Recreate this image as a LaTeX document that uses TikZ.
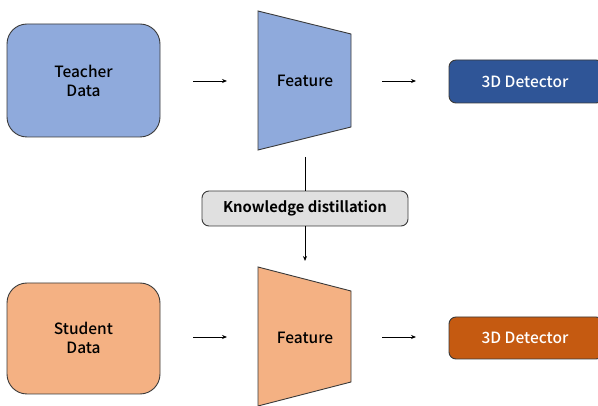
\documentclass[tikz,border=0pt]{standalone}
\usepackage{fontspec}
\setmainfont{Noto Sans CJK KR}[UprightFont=* Medium, BoldFont=* Bold]
\usetikzlibrary{arrows.meta}
\definecolor{tlight}{HTML}{8FAADC}
\definecolor{tdark}{HTML}{2F5597}
\definecolor{slight}{HTML}{F4B183}
\definecolor{sdark}{HTML}{C55A11}
\definecolor{kdgray}{HTML}{E0E0E0}
\definecolor{edge}{HTML}{3A3A3A}
\tikzset{
  databox/.style={draw=edge, line width=0.9pt, rounded corners=20pt},
  detbox/.style={draw=edge, line width=0.9pt, rounded corners=7pt},
  trap/.style={draw=edge, line width=0.9pt},
  lbl/.style={font=\fontsize{15.5}{19}\selectfont, align=center, text=black},
  flow/.style={-{Stealth[length=5pt,width=4pt]}, line width=0.8pt, black},
}
\begin{document}
\begin{tikzpicture}[x=1pt,y=-1pt]
\useasboundingbox (0,0) rectangle (598,406);
% teacher branch
\draw[databox, fill=tlight] (7,24) rectangle (160,137);
\node[lbl] (tdata) at (83.5,81) {Teacher\\Data};
\draw[trap, fill=tlight] (258,11) -- (351,34) -- (351,127) -- (258,150) -- cycle;
\node[lbl] (tfeat) at (305,81) {Feature};
\draw[detbox, fill=tdark] (449,60) rectangle (603,103);
\node[lbl, text=white] (tdet) at (525,81.5) {3D Detector};
\coordinate (ta1) at (193,81); \coordinate (ta2) at (227,81);
\coordinate (tb1) at (382,81); \coordinate (tb2) at (416,81);
\draw[flow] (ta1) -- (ta2);
\draw[flow] (tb1) -- (tb2);
% distillation
\draw[detbox, fill=kdgray] (202,191) rectangle (408,226);
\node[lbl, font=\fontsize{14.8}{17}\selectfont\bfseries] (kd) at (305,208.5) {Knowledge distillation};
\coordinate (kd0) at (305,157); \coordinate (kd1) at (305,191);
\coordinate (kd2) at (305,226); \coordinate (kd3) at (305,261);
\draw[line width=0.8pt] (kd0) -- (kd1);
\draw[flow] (kd2) -- (kd3);
% student branch
\draw[databox, fill=slight] (7,283) rectangle (160,394);
\node[lbl] (sdata) at (83.5,338) {Student\\Data};
\draw[trap, fill=slight] (258,267) -- (351,291) -- (351,382) -- (258,406) -- cycle;
\node[lbl] (sfeat) at (305,338) {Feature};
\draw[detbox, fill=sdark] (449,317) rectangle (603,359);
\node[lbl, text=white] (sdet) at (525,338) {3D Detector};
\coordinate (sa1) at (193,337); \coordinate (sa2) at (227,337);
\coordinate (sb1) at (382,337); \coordinate (sb2) at (416,337);
\draw[flow] (sa1) -- (sa2);
\draw[flow] (sb1) -- (sb2);
\end{tikzpicture}
\end{document}
